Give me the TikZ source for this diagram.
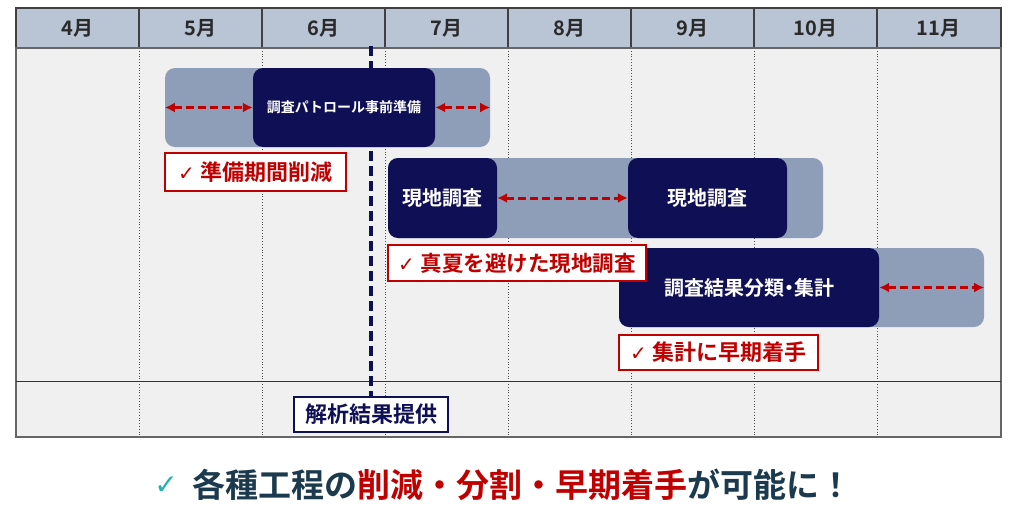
\documentclass[tikz,border=0pt]{standalone}
\usepackage{fontspec}
\setmainfont{Noto Sans CJK JP}[BoldFont={Noto Sans CJK JP Bold}]
\newfontfamily\jpp{Noto Sans CJK JP}[BoldFont={Noto Sans CJK JP Bold}, RawFeature=+palt]
\newfontfamily\sym{DejaVu Sans}
\usetikzlibrary{arrows.meta}
\definecolor{navy}{HTML}{0F0F55}
\definecolor{barbg}{HTML}{8F9EB8}
\definecolor{hdr}{HTML}{B9C4D4}
\definecolor{body}{HTML}{F0F0F0}
\definecolor{redc}{HTML}{C00000}
\definecolor{darktxt}{HTML}{1C3A4E}
\definecolor{teal}{HTML}{22B3B3}
\definecolor{hdrtxt}{HTML}{2A2A2A}
\newcommand{\chk}{{\sym\mdseries\fontsize{20}{22}\selectfont ✓}\hspace{6pt}}
\tikzset{
  barbox/.style={fill=barbg, rounded corners=10pt, inner sep=0pt},
  taskbox/.style={fill=navy, rounded corners=10pt, inner sep=0pt, text=white, font=\bfseries},
  notebox/.style={draw=redc, line width=2.5pt, fill=white, text=redc, inner sep=0pt, font=\bfseries\fontsize{22}{24}\selectfont},
  monthlbl/.style={text=hdrtxt, font=\bfseries\fontsize{20}{24}\selectfont},
  gap/.style={draw=redc, line width=3pt, dash pattern=on 8pt off 4pt, {Latex[length=10pt,width=10pt]}-{Latex[length=10pt,width=10pt]}},
  grid/.style={draw=black!70, line width=0.8pt, dotted},
}
\begin{document}
\begin{tikzpicture}[x=1pt,y=-1pt]
\useasboundingbox (0,0) rectangle (1016,514);
% table
\fill[body] (16,48) rectangle (1001,437);
\fill[hdr] (16,8) rectangle (1001,48);
\foreach \x in {139,262,385,508,631,754,877}{
  \draw[grid] (\x,48) -- (\x,437);
  \draw[draw=black!75, line width=1.2pt] (\x,8) -- (\x,48);
}
\draw[black!75, line width=1.2pt] (16,8) rectangle (1001,48);
\draw[black!60, line width=1.4pt] (16,48) rectangle (1001,437);
\draw[black!80, line width=1pt] (16,381) -- (1001,381);
% month labels
\foreach \m [count=\i from 0] in {4,5,6,7,8,9,10,11}{
  \node[monthlbl] (m\m) at (77.5+123*\i,28) {\m 月};
}
% milestone
\coordinate (mtop) at (371,46);
\node[draw=navy, line width=2.5pt, fill=white, text=navy, inner sep=0pt, minimum width=154pt, minimum height=35pt, font=\bfseries\fontsize{22}{24}\selectfont] (result) at (371,414.5) {解析結果提供};
\draw[navy, line width=3.5pt, dash pattern=on 10pt off 5pt] (mtop) -- (result.north);
% bar 1
\node[barbox, minimum width=325pt, minimum height=79pt] (bg1) at (327.5,107.5) {};
\node[taskbox, minimum width=182pt, minimum height=79pt, font=\bfseries\fontsize{14}{16}\selectfont] (t1) at (344,107.5) {調査パトロール事前準備};
\draw[gap] (bg1.west) -- (t1.west);
\draw[gap] (t1.east) -- (bg1.east);
\node[notebox, minimum width=181pt, minimum height=38pt] (n1) at (255.5,172) {\chk 準備期間削減};
% bar 2
\node[barbox, minimum width=435pt, minimum height=80pt] (bg2) at (605.5,198) {};
\node[taskbox, minimum width=109pt, minimum height=80pt, font=\bfseries\fontsize{20}{24}\selectfont] (t2a) at (442.5,198) {現地調査};
\node[taskbox, minimum width=159pt, minimum height=80pt, font=\bfseries\fontsize{20}{24}\selectfont] (t2b) at (707.5,198) {現地調査};
\draw[gap] (t2a.east) -- (t2b.west);
% bar 3
\node[barbox, minimum width=365pt, minimum height=79pt] (bg3) at (801.5,287.5) {};
\node[taskbox, minimum width=260pt, minimum height=79pt, font=\jpp\bfseries\fontsize{20}{24}\selectfont] (t3) at (749,287.5) {調査結果分類・集計};
\draw[gap] (t3.east) -- (bg3.east);
\node[notebox, minimum width=258pt, minimum height=36pt, font=\bfseries\fontsize{21.5}{24}\selectfont] (n2) at (517,263) {\chk 真夏を避けた現地調査};
\node[notebox, minimum width=199pt, minimum height=35pt] (n3) at (718.5,352.5) {\chk 集計に早期着手};
% conclusion
\node[text=teal, font=\sym\fontsize{28}{30}\selectfont, inner sep=0pt] (cchk) at (166,486) {✓};
\node[anchor=west, font=\bfseries\fontsize{33}{38}\selectfont, text=darktxt, inner sep=0pt] (concl) at (192,485) {各種工程の{\color{redc}削減・分割・早期着手}が可能に！};
\end{tikzpicture}
\end{document}
